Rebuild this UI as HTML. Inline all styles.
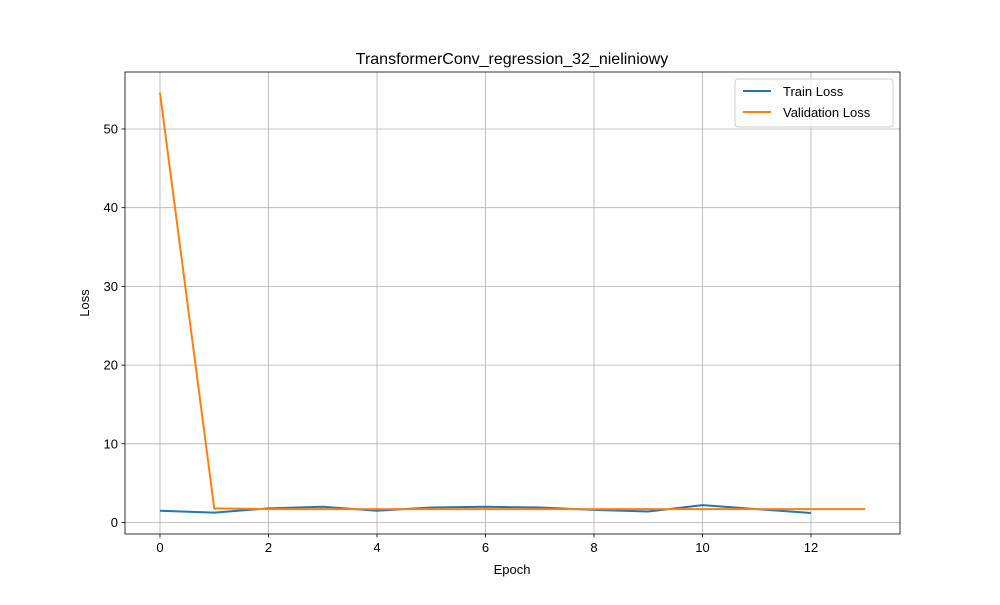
<!DOCTYPE html>
<html><head><meta charset="utf-8"><style>body{margin:0;background:#fff}svg{font-family:"Liberation Sans","DejaVu Sans",sans-serif}</style></head>
<body>
<svg id="c" width="1000" height="600"></svg>
<script>
const epochsTrain=[0,1,2,3,4,5,6,7,8,9,10,11,12];
const trainLoss=[1.5,1.25,1.8,2.0,1.5,1.9,2.0,1.9,1.6,1.4,2.2,1.7,1.2];
const epochsVal=[0,1,2,3,4,5,6,7,8,9,10,11,12,13];
const valLoss=[54.6,1.8,1.7,1.7,1.7,1.7,1.7,1.7,1.7,1.7,1.7,1.7,1.7,1.7];
const xTicks=[0,2,4,6,8,10,12];
const yTicks=[0,10,20,30,40,50];
const L=125,R=900,T=72,B=534;
const X=v=>160+v*(811-160)/12;
const Y=v=>522.5-v*(522.5-129)/50;
const s=document.getElementById('c');const NS='http://www.w3.org/2000/svg';
function el(t,a,p){const e=document.createElementNS(NS,t);for(const k in a)e.setAttribute(k,a[k]);(p||s).appendChild(e);return e;}
xTicks.forEach(v=>{const g=el('line',{x1:X(v),x2:X(v),y1:T,y2:B,stroke:'#b0b0b0','stroke-width':0.8});


el('line',{x1:X(v),x2:X(v),y1:B,y2:B+3.5,stroke:'#000','stroke-width':0.8});
const t=el('text',{x:X(v),y:B+18,'text-anchor':'middle','font-size':13});t.textContent=v;

});
yTicks.forEach(v=>{const g=el('line',{x1:L,x2:R,y1:Y(v),y2:Y(v),stroke:'#b0b0b0','stroke-width':0.8});


el('line',{x1:L-3.5,x2:L,y1:Y(v),y2:Y(v),stroke:'#000','stroke-width':0.8});
const t=el('text',{x:L-7,y:Y(v)+4.5,'text-anchor':'end','font-size':13});t.textContent=v;

});
function line(xs,ys,c,n){const p=el('polyline',{points:xs.map((x,i)=>X(x)+','+Y(ys[i])).join(' '),fill:'none',stroke:c,'stroke-width':2});

}
line(epochsTrain,trainLoss,'#1f77b4','train-loss-line');
line(epochsVal,valLoss,'#ff7f0e','validation-loss-line');
const f=el('rect',{x:L,y:T,width:R-L,height:B-T,fill:'none',stroke:'#000','stroke-width':0.8});


</script>
<svg width="1000" height="600" style="position:absolute;left:0;top:0">
<text x="512" y="64" text-anchor="middle" font-size="16">TransformerConv_regression_32_nieliniowy</text>
<text x="512" y="574" text-anchor="middle" font-size="13">Epoch</text>
<text x="89" y="303" text-anchor="middle" font-size="13" transform="rotate(-90 89 303)">Loss</text>
<g>
<rect x="735" y="79" width="158" height="48" rx="3" fill="#fff" fill-opacity="0.8" stroke="#ccc"/>
<line x1="743" x2="771" y1="91" y2="91" stroke="#1f77b4" stroke-width="2"/>
<text x="783" y="96" font-size="13">Train Loss</text>
<line x1="743" x2="771" y1="112" y2="112" stroke="#ff7f0e" stroke-width="2"/>
<text x="783" y="117" font-size="13">Validation Loss</text>
</g>
</svg>
</body></html>
